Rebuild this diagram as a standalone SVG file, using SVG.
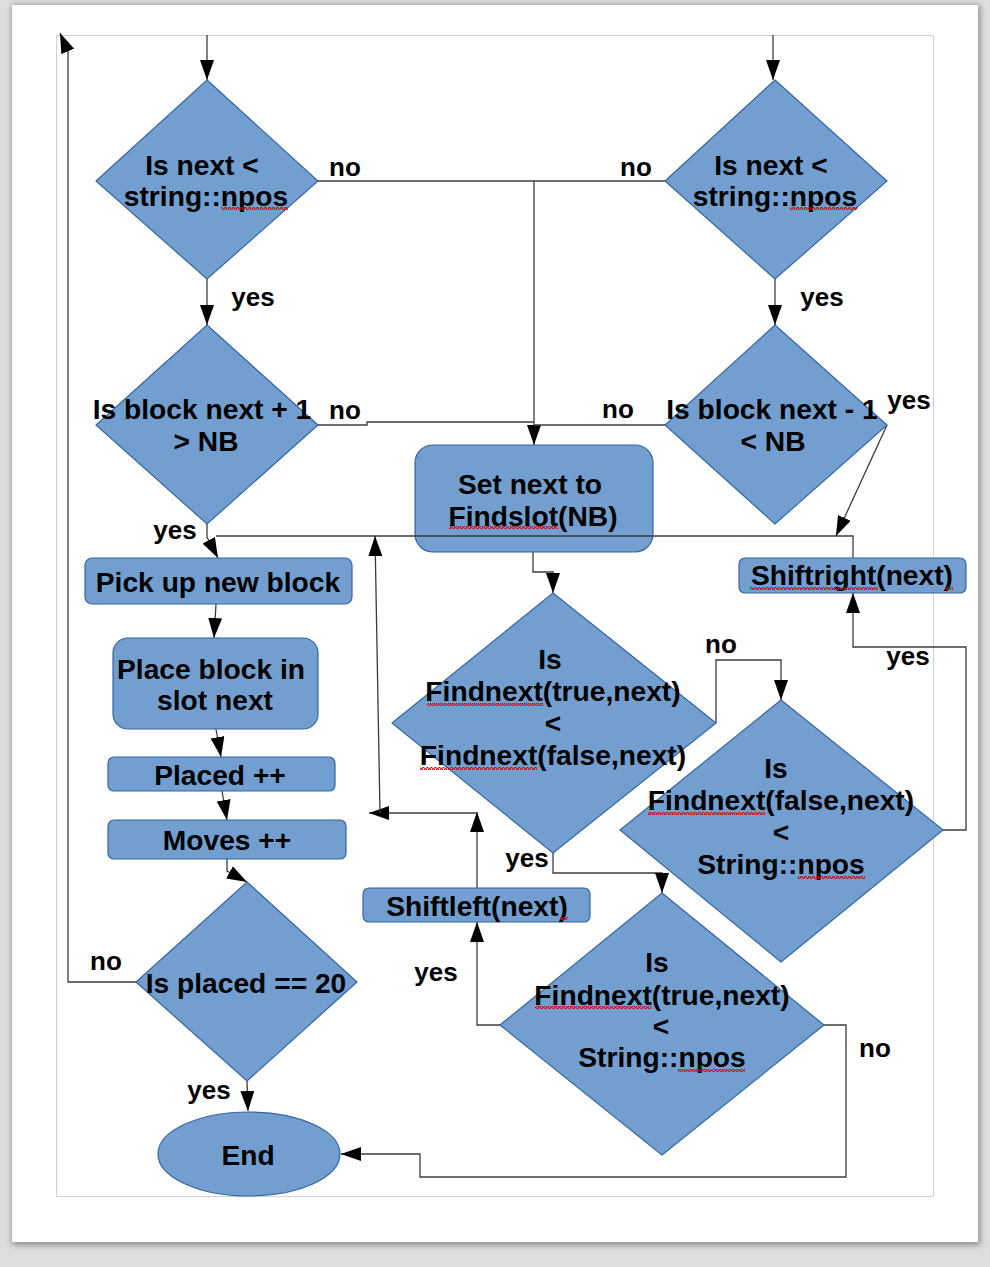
<svg xmlns="http://www.w3.org/2000/svg" width="990" height="1267" viewBox="0 0 990 1267">
<defs>
<style>
.shape{fill:#729fcf;stroke:#3465a4;stroke-width:1.2}
.t{font-family:"Liberation Sans",Arial,sans-serif;font-weight:bold;font-size:28.2px;fill:#000;text-anchor:middle}
.lbl{font-family:"Liberation Sans",Arial,sans-serif;font-weight:bold;font-size:26px;fill:#000;text-anchor:middle}
.c{fill:none;stroke:#3c3c3c;stroke-width:1.3}
.ca{fill:none;stroke:#3c3c3c;stroke-width:1.3;marker-end:url(#ah)}
.sq{fill:url(#wave)}
</style>
<marker id="ah" markerUnits="userSpaceOnUse" markerWidth="20" markerHeight="14" refX="20" refY="7" orient="auto" viewBox="0 0 20 14">
<path d="M0,0 L20,7 L0,14 z" fill="#000"/>
</marker>
<pattern id="wave" width="4" height="3" patternUnits="userSpaceOnUse">
<path d="M0,2.5 L1,0.5 L2,0.5 L3,2.5 L4,2.5" fill="none" stroke="#e00000" stroke-width="1.1"/>
</pattern>
<filter id="shadow" x="-5%" y="-5%" width="110%" height="110%">
<feGaussianBlur stdDeviation="3"/>
</filter>
</defs>
<rect x="0" y="0" width="990" height="1267" fill="#dedede"/>
<rect x="12" y="5" width="968" height="1240" fill="#8a8a8a" filter="url(#shadow)"/>
<rect x="12" y="5" width="966" height="1237" fill="#ffffff"/>
<rect x="56.5" y="35.5" width="877" height="1161" fill="none" stroke="#d0d0d0" stroke-width="1"/>
<g id="connectors">
<path class="ca" d="M207,35 V80"/>
<path class="ca" d="M773,35 V80"/>
<path class="c" d="M318,181 H665"/>
<path class="ca" d="M534,181 V445"/>
<path class="ca" d="M207,279 V325"/>
<path class="ca" d="M775,279 V325"/>
<path class="c" d="M318,425 H367 V422 H534"/>
<path class="c" d="M665,425 H534"/>
<path class="ca" d="M207,524 V537 L218,558"/>
<path class="c" d="M853,558 V536 H216"/>
<path class="ca" d="M887,425 L836,536"/>
<path class="ca" d="M533,552 V572 H553 V593"/>
<path class="ca" d="M216,604 L214,638"/>
<path class="ca" d="M216,729 L221,757"/>
<path class="ca" d="M222,791 L227,820"/>
<path class="ca" d="M227,859 V871 L247,882"/>
<path class="ca" d="M136,982 H68 V52 L60,33"/>
<path class="ca" d="M247,1081 L248,1111"/>
<path class="ca" d="M824,1025 H846 V1177 H420 V1154 H341"/>
<path class="ca" d="M500,1025 H477 V922"/>
<path class="ca" d="M553,853 V873 H662 V893"/>
<path class="ca" d="M716,723 V660 H781 V700"/>
<path class="ca" d="M943,830 H966 V647 H853 V593"/>
<path class="ca" d="M477,888 V812"/>
<path class="ca" d="M477,813 H369"/>
<path class="ca" d="M380,813 L375,536"/>
</g>
<g id="labels">
<text class="lbl" x="345" y="176">no</text>
<text class="lbl" x="636" y="176">no</text>
<text class="lbl" x="253" y="306">yes</text>
<text class="lbl" x="822" y="306">yes</text>
<text class="lbl" x="345" y="419">no</text>
<text class="lbl" x="618" y="418">no</text>
<text class="lbl" x="909" y="409">yes</text>
<text class="lbl" x="175" y="539">yes</text>
<text class="lbl" x="721" y="653">no</text>
<text class="lbl" x="908" y="665">yes</text>
<text class="lbl" x="527" y="867">yes</text>
<text class="lbl" x="436" y="981">yes</text>
<text class="lbl" x="875" y="1057">no</text>
<text class="lbl" x="106" y="970">no</text>
<text class="lbl" x="209" y="1099">yes</text>
</g>
<g id="d1">
<polygon class="shape" points="207,80 318,181 207,279 96,181"/>
<text class="t" x="202" y="175">Is next &lt;</text>
<text class="t" x="206" y="206">string::npos</text>
<rect class="sq" x="221" y="207" width="67" height="3"/>
</g>
<g id="d2">
<polygon class="shape" points="775,80 887,181 775,279 665,181"/>
<text class="t" x="771" y="175">Is next &lt;</text>
<text class="t" x="775" y="206">string::npos</text>
<rect class="sq" x="790" y="207" width="68" height="3"/>
</g>
<g id="d3">
<polygon class="shape" points="207,325 318,425 207,524 96,425"/>
<text class="t" x="202" y="419">Is block next + 1</text>
<text class="t" x="206" y="451">&gt; NB</text>
</g>
<g id="d4">
<polygon class="shape" points="775,325 887,425 775,524 665,425"/>
<text class="t" x="772" y="419">Is block next - 1</text>
<text class="t" x="773" y="451">&lt; NB</text>
</g>
<g id="setnext">
<rect class="shape" x="415" y="445" width="238" height="107" rx="18"/>
<path class="c" d="M415,536 H653"/>
<text class="t" x="530" y="494">Set next to</text>
<text class="t" x="533" y="526">Findslot(NB)</text>
<rect class="sq" x="449" y="526" width="109" height="3"/>
</g>
<g id="pickup">
<rect class="shape" x="85" y="558" width="267" height="46" rx="7"/>
<text class="t" x="218" y="592">Pick up new block</text>
</g>
<g id="place">
<rect class="shape" x="113" y="638" width="205" height="91" rx="15"/>
<text class="t" x="211" y="679">Place block in</text>
<text class="t" x="215" y="710">slot next</text>
</g>
<g id="placed">
<rect class="shape" x="108" y="757" width="227" height="34" rx="6"/>
<text class="t" x="220" y="785">Placed ++</text>
</g>
<g id="moves">
<rect class="shape" x="108" y="820" width="238" height="39" rx="6"/>
<text class="t" x="227" y="850">Moves ++</text>
</g>
<g id="d5">
<polygon class="shape" points="247,882 357,982 247,1081 136,982"/>
<text class="t" x="246" y="993">Is placed == 20</text>
</g>
<g id="end">
<ellipse class="shape" cx="249" cy="1154" rx="91" ry="42"/>
<text class="t" x="248" y="1165">End</text>
</g>
<g id="shiftright">
<rect class="shape" x="739" y="558" width="227" height="35" rx="6"/>
<text class="t" x="852" y="585">Shiftright(next)</text>
<rect class="sq" x="750" y="587" width="128" height="3"/>
<rect class="sq" x="945" y="587" width="8" height="3"/>
</g>
<g id="shiftleft">
<rect class="shape" x="363" y="888" width="227" height="34" rx="6"/>
<text class="t" x="477" y="916">Shiftleft(next)</text>
<rect class="sq" x="560" y="917" width="8" height="3"/>
</g>
<g id="f1">
<polygon class="shape" points="553,593 716,723 553,853 392,723"/>
<text class="t" x="550" y="669">Is</text>
<text class="t" x="553" y="701">Findnext(true,next)</text>
<text class="t" x="553" y="733">&lt;</text>
<text class="t" x="553" y="765">Findnext(false,next)</text>
<rect class="sq" x="427" y="703" width="116" height="3"/>
<rect class="sq" x="420" y="767" width="117" height="3"/>
</g>
<g id="f2">
<polygon class="shape" points="781,700 943,830 781,962 620,830"/>
<text class="t" x="776" y="778">Is</text>
<text class="t" x="781" y="810">Findnext(false,next)</text>
<text class="t" x="781" y="842">&lt;</text>
<text class="t" x="781" y="874">String::npos</text>
<rect class="sq" x="648" y="812" width="117" height="3"/>
<rect class="sq" x="798" y="876" width="67" height="3"/>
</g>
<g id="f3">
<polygon class="shape" points="662,893 824,1025 662,1155 500,1025"/>
<text class="t" x="657" y="972">Is</text>
<text class="t" x="662" y="1005">Findnext(true,next)</text>
<text class="t" x="661" y="1036">&lt;</text>
<text class="t" x="662" y="1067">String::npos</text>
<rect class="sq" x="535" y="1006" width="116" height="3"/>
<rect class="sq" x="678" y="1069" width="67" height="3"/>
</g>
</svg>
